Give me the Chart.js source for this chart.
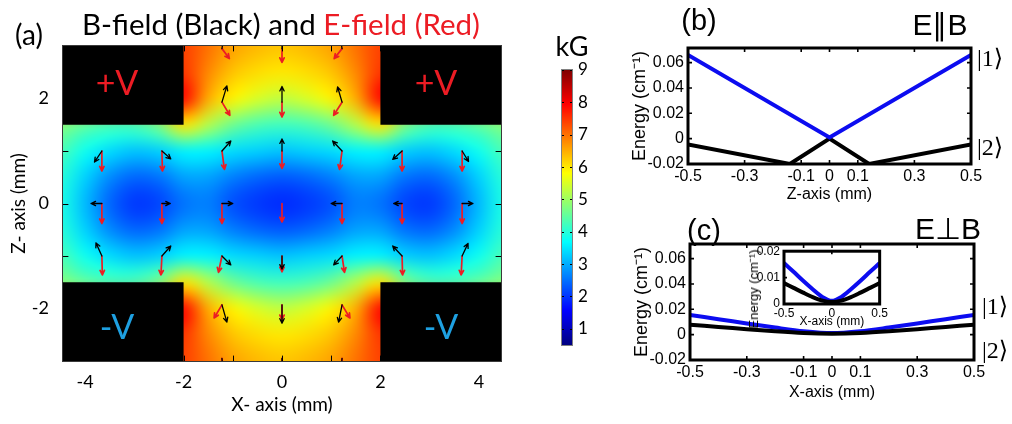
<!DOCTYPE html>
<html lang="en">
<head>
<meta charset="utf-8">
<title>Magnetic and electric field map with level shifts</title>
<script src="https://cdn.jsdelivr.net/npm/chart.js@4.4.1/dist/chart.umd.min.js"></script>
<style>
  html, body { margin: 0; padding: 0; background: #fff; }
  #page { position: relative; width: 1012px; height: 424px; overflow: hidden; background: #fff; }
  #page canvas { position: absolute; }
  .lbl { position: absolute; white-space: nowrap; line-height: 1; transform: translate(-50%, -50%); }
</style>
</head>
<body>
<div id="page">
  <canvas id="fieldMap" width="545" height="424" style="left:0;top:0"></canvas>
  <canvas id="colorBar" width="80" height="330" style="left:540px;top:40px"></canvas>
  <canvas id="parallelChart" width="392" height="210" style="left:620px;top:0"></canvas>
  <canvas id="perpChart" width="392" height="214" style="left:620px;top:210px"></canvas>
  <canvas id="perpInset" width="160" height="100" style="left:730px;top:240px"></canvas>
</div>
<script>
// ---------------- panel (a): |B| map with field directions ----------------
// sample grid (mm); rows run from z = +3 down to z = -3
const fieldX = [-4.5, -4, -3.5, -3, -2.5, -2, -1.5, -1, -0.5, 0, 0.5, 1, 1.5, 2, 2.5, 3, 3.5, 4, 4.5];
const fieldZ = [3, 2.5, 2, 1.5, 1, 0.5, 0, -0.5, -1, -1.5, -2, -2.5, -3];
// field magnitude in kG at each grid node
const fieldB = [
  [7.4, 7.4, 7.4, 7.4, 7.4, 7.4, 7.0, 6.6, 6.4, 6.3, 6.4, 6.6, 7.0, 7.4, 7.4, 7.4, 7.4, 7.4, 7.4],
  [7.5, 7.5, 7.5, 7.5, 7.5, 7.5, 6.8, 6.3, 6.1, 6.0, 6.1, 6.3, 6.8, 7.5, 7.5, 7.5, 7.5, 7.5, 7.5],
  [7.9, 7.9, 7.9, 7.9, 7.9, 7.9, 6.5, 5.9, 5.5, 5.3, 5.5, 5.9, 6.5, 7.9, 7.9, 7.9, 7.9, 7.9, 7.9],
  [4.8, 4.5, 4.3, 4.3, 4.7, 6.0, 5.2, 4.6, 4.3, 4.2, 4.3, 4.6, 5.2, 6.0, 4.7, 4.3, 4.3, 4.5, 4.8],
  [4.3, 3.8, 3.4, 3.2, 3.3, 3.6, 3.6, 3.4, 3.3, 3.2, 3.3, 3.4, 3.6, 3.6, 3.3, 3.2, 3.4, 3.8, 4.3],
  [4.0, 3.3, 2.7, 2.4, 2.5, 2.9, 2.9, 2.6, 2.4, 2.3, 2.4, 2.6, 2.9, 2.9, 2.5, 2.4, 2.7, 3.3, 4.0],
  [3.9, 3.1, 2.4, 2.0, 2.1, 2.5, 2.6, 2.2, 2.0, 1.9, 2.0, 2.2, 2.6, 2.5, 2.1, 2.0, 2.4, 3.1, 3.9],
  [4.0, 3.3, 2.7, 2.4, 2.5, 2.9, 2.9, 2.6, 2.4, 2.3, 2.4, 2.6, 2.9, 2.9, 2.5, 2.4, 2.7, 3.3, 4.0],
  [4.3, 3.8, 3.4, 3.2, 3.3, 3.6, 3.6, 3.4, 3.3, 3.2, 3.3, 3.4, 3.6, 3.6, 3.3, 3.2, 3.4, 3.8, 4.3],
  [4.8, 4.5, 4.3, 4.3, 4.7, 6.0, 5.2, 4.6, 4.3, 4.2, 4.3, 4.6, 5.2, 6.0, 4.7, 4.3, 4.3, 4.5, 4.8],
  [7.9, 7.9, 7.9, 7.9, 7.9, 7.9, 6.5, 5.9, 5.5, 5.3, 5.5, 5.9, 6.5, 7.9, 7.9, 7.9, 7.9, 7.9, 7.9],
  [7.5, 7.5, 7.5, 7.5, 7.5, 7.5, 6.8, 6.3, 6.1, 6.0, 6.1, 6.3, 6.8, 7.5, 7.5, 7.5, 7.5, 7.5, 7.5],
  [7.4, 7.4, 7.4, 7.4, 7.4, 7.4, 7.0, 6.6, 6.4, 6.3, 6.4, 6.6, 7.0, 7.4, 7.4, 7.4, 7.4, 7.4, 7.4]
];
// electrode blocks [x0, x1, z0, z1] in mm
const electrodes = [[-5, -2, 1.5, 3.5], [2, 5, 1.5, 3.5], [-5, -2, -3.5, -1.5], [2, 5, -3.5, -1.5]];
// arrow anchor points [x, z] in mm
const arrowSites = [
  [-1.22, 2.95], [0, 2.95], [1.22, 2.95],
  [-1.22, 1.93], [0, 1.93], [1.22, 1.93],
  [-3.66, 1], [-2.44, 1], [-1.22, 1], [0, 1], [1.22, 1], [2.44, 1], [3.66, 1],
  [-3.66, 0], [-2.44, 0], [-1.22, 0], [0, 0], [1.22, 0], [2.44, 0], [3.66, 0],
  [-3.66, -1], [-2.44, -1], [-1.22, -1], [0, -1], [1.22, -1], [2.44, -1], [3.66, -1],
  [-1.22, -1.93], [0, -1.93], [1.22, -1.93],
  [-1.22, -2.95], [0, -2.95], [1.22, -2.95]
];
// B-field direction arrows [dx, dz] in mm
const bArrows = [
  [0.04, 0.25], [0, 0.25], [-0.04, 0.25],
  [0.10, 0.31], [0, 0.30], [-0.09, 0.29],
  [-0.15, -0.21], [0.18, -0.15], [0.18, 0.19], [0, 0.23], [-0.19, 0.19], [-0.19, -0.16], [0.13, -0.20],
  [-0.22, 0], [0.17, 0], [0.22, 0], [0, 0], [-0.22, 0], [-0.17, 0], [0.22, 0],
  [-0.12, 0.25], [0.18, 0.19], [0.18, -0.17], [0, -0.25], [-0.17, -0.17], [-0.19, 0.19], [0.12, 0.24],
  [0.10, -0.33], [0, -0.35], [-0.07, -0.33],
  [0.03, -0.3], [0, -0.3], [-0.03, -0.3]
];
// E-field direction arrows [dx, dz] in mm
const eArrows = [
  [0.15, -0.19], [0, -0.26], [-0.16, -0.19],
  [0.16, -0.25], [0, -0.28], [-0.17, -0.25],
  [0, -0.38], [0.01, -0.38], [0.05, -0.35], [0, -0.33], [-0.05, -0.35], [0, -0.38], [0, -0.38],
  [0, -0.38], [0, -0.38], [0, -0.38], [0, -0.35], [0, -0.38], [0, -0.38], [0, -0.38],
  [0.01, -0.36], [-0.02, -0.36], [-0.07, -0.31], [0, -0.30], [0.05, -0.31], [0.01, -0.36], [-0.02, -0.36],
  [-0.16, -0.25], [0, -0.28], [0.16, -0.25],
  [0, -0.2], [0, -0.2], [0, -0.2]
];
const mapXRange = [-4.45, 4.45];
const mapZRange = [-3, 3];
const mapXTicks = [-4, -3, -2, -1, 0, 1, 2, 3, 4];
const mapXLabels = ['-4', '', '-2', '', '0', '', '2', '', '4'];
const mapZTicks = [-2, -1, 0, 1, 2];
const mapZLabels = ['-2', '', '0', '', '2'];
const colorRange = [0.5, 9];
const colorTicks = [1, 2, 3, 4, 5, 6, 7, 8, 9];

// ---------------- panel (b): E parallel to B ----------------
const parState1X = [-0.5, 0, 0.5];
const parState1 = [0.066, 0.001, 0.066];
const parState2X = [-0.5, -0.14, 0, 0.14, 0.5];
const parState2 = [-0.0045, -0.02, 0, -0.02, -0.0045];

// ---------------- panel (c): E perpendicular to B ----------------
const perpX = [-0.5, -0.4, -0.3, -0.2, -0.1, 0, 0.1, 0.2, 0.3, 0.4, 0.5];
const perpState1 = [0.0155, 0.0122, 0.0088, 0.0056, 0.0027, 0.0012, 0.0027, 0.0056, 0.0088, 0.0122, 0.0155];
const perpState2 = [0.0079, 0.0061, 0.0043, 0.0026, 0.0013, 0.0008, 0.0013, 0.0026, 0.0043, 0.0061, 0.0079];

const posTicks = [-0.5, -0.3, -0.1, 0, 0.1, 0.3, 0.5];
const posLabels = ['-0.5', '-0.3', '-0.1', '0', '0.1', '0.3', '0.5'];
const energyTicks = [-0.02, 0, 0.02, 0.04, 0.06];
const energyLabels = ['-0.02', '0', '0.02', '0.04', '0.06'];
const insetXTicks = [-0.5, 0, 0.5];
const insetXLabels = ['-0.5', '0', '0.5'];
const insetYTicks = [0, 0.01, 0.02];
const insetYLabels = ['0', '0.01', '0.02'];

// ---------------- helpers ----------------
const SANS = "Lato, 'Open Sans', sans-serif";
const ARIAL = "'Liberation Sans', Arial, sans-serif";
const BLUE = 'rgb(12, 12, 240)';
const ENERGY_TITLE = 'Energy (cm\u207B\u00B9)';

function jet(v) {
  const t = Math.min(1, Math.max(0, (v - colorRange[0]) / (colorRange[1] - colorRange[0])));
  const f = u => Math.round(255 * Math.min(1, Math.max(0, 1.5 - Math.abs(4 * t - u))));
  return [f(3), f(2), f(1)];
}

function drawArrow(ctx, bx, by, tx, ty, head) {
  const len = Math.hypot(tx - bx, ty - by);
  if (len < 1) return;
  const ang = Math.atan2(ty - by, tx - bx);
  ctx.beginPath();
  ctx.moveTo(bx, by); ctx.lineTo(tx, ty);
  ctx.moveTo(tx - head * Math.cos(ang - 0.45), ty - head * Math.sin(ang - 0.45));
  ctx.lineTo(tx, ty);
  ctx.lineTo(tx - head * Math.cos(ang + 0.45), ty - head * Math.sin(ang + 0.45));
  ctx.stroke();
}

const baseOptions = {
  responsive: false, animation: false, devicePixelRatio: 1,
  events: [],
};
const noGrid = { display: false, drawTicks: false };

// |B| image, electrodes, field arrows and inner tick marks
const fieldLayers = {
  id: 'fieldLayers',
  beforeDatasetsDraw(chart) {
    const { ctx, chartArea: a, scales: { x, y } } = chart;
    ctx.save();
    ctx.beginPath(); ctx.rect(a.left, a.top, a.right - a.left, a.bottom - a.top); ctx.clip();
    const tex = document.createElement('canvas');
    tex.width = fieldX.length; tex.height = fieldZ.length;
    const tctx = tex.getContext('2d');
    const img = tctx.createImageData(tex.width, tex.height);
    fieldB.forEach((row, r) => row.forEach((v, c) => {
      const [R, G, B] = jet(v);
      const k = 4 * (r * tex.width + c);
      img.data[k] = R; img.data[k + 1] = G; img.data[k + 2] = B; img.data[k + 3] = 255;
    }));
    tctx.putImageData(img, 0, 0);
    const hx = (fieldX[1] - fieldX[0]) / 2, hz = (fieldZ[0] - fieldZ[1]) / 2;
    const x0 = x.getPixelForValue(fieldX[0] - hx), x1 = x.getPixelForValue(fieldX[fieldX.length - 1] + hx);
    const y0 = y.getPixelForValue(fieldZ[0] + hz), y1 = y.getPixelForValue(fieldZ[fieldZ.length - 1] - hz);
    ctx.imageSmoothingEnabled = true;
    ctx.imageSmoothingQuality = 'high';
    ctx.drawImage(tex, x0, y0, x1 - x0, y1 - y0);
    ctx.fillStyle = '#000';
    electrodes.forEach(([ex0, ex1, ez0, ez1]) => {
      const px0 = x.getPixelForValue(ex0), px1 = x.getPixelForValue(ex1);
      const py0 = y.getPixelForValue(ez1), py1 = y.getPixelForValue(ez0);
      ctx.fillRect(px0, py0, px1 - px0, py1 - py0);
    });
    ctx.restore();
  },
  afterDatasetsDraw(chart) {
    const { ctx, chartArea: a, scales: { x, y } } = chart;
    ctx.save();
    ctx.beginPath(); ctx.rect(a.left, a.top, a.right - a.left, a.bottom - a.top); ctx.clip();
    ctx.lineCap = 'round'; ctx.lineJoin = 'round';
    chart.data.datasets.forEach(ds => {
      ctx.strokeStyle = ds.arrowColor;
      ctx.lineWidth = ds.arrowWidth;
      ds.data.forEach(d => {
        drawArrow(ctx, x.getPixelForValue(d.x), y.getPixelForValue(d.y),
          x.getPixelForValue(d.x + d.u), y.getPixelForValue(d.y + d.w), 5);
      });
    });
    ctx.strokeStyle = '#000'; ctx.lineWidth = 1;
    ctx.beginPath();
    x.ticks.forEach(t => {
      const px = Math.round(x.getPixelForValue(t.value)) + 0.5;
      ctx.moveTo(px, a.bottom); ctx.lineTo(px, a.bottom - 5);
      ctx.moveTo(px, a.top); ctx.lineTo(px, a.top + 5);
    });
    y.ticks.forEach(t => {
      const py = Math.round(y.getPixelForValue(t.value)) + 0.5;
      ctx.moveTo(a.left, py); ctx.lineTo(a.left + 5, py);
      ctx.moveTo(a.right, py); ctx.lineTo(a.right - 5, py);
    });
    ctx.stroke();
    ctx.restore();
    ctx.save();
    ctx.strokeStyle = '#3a3a3a'; ctx.lineWidth = 1;
    ctx.strokeRect(a.left - 0.5, a.top - 0.5, a.right - a.left + 1, a.bottom - a.top + 1);
    ctx.restore();
  }
};

new Chart(document.getElementById('fieldMap'), {
  type: 'scatter',
  data: {
    datasets: [
      { label: 'E-field', arrowColor: 'rgb(236, 28, 36)', arrowWidth: 1.7, pointRadius: 0,
        data: arrowSites.map(([px, pz], i) => ({ x: px, y: pz, u: eArrows[i][0], w: eArrows[i][1] })) },
      { label: 'B-field', arrowColor: '#000', arrowWidth: 1.3, pointRadius: 0,
        data: arrowSites.map(([px, pz], i) => ({ x: px, y: pz, u: bArrows[i][0], w: bArrows[i][1] })) }
    ]
  },
  options: {
    ...baseOptions,
    layout: { padding: { left: 0, top: 46, right: 44, bottom: 0 } },
    plugins: { legend: { display: false }, tooltip: { enabled: false } },
    scales: {
      x: {
        type: 'linear', min: mapXRange[0], max: mapXRange[1],
        grid: noGrid, border: { display: false },
        afterBuildTicks: s => { s.ticks = mapXTicks.map(v => ({ value: v })); },
        ticks: { autoSkip: false, maxRotation: 0, padding: 10, color: '#000',
          font: { family: SANS, size: 18 }, callback: (v, i) => mapXLabels[i] },
        title: { display: true, text: 'X- axis (mm)', color: '#000',
          font: { family: SANS, size: 19 }, padding: { top: 0, bottom: 8 } },
        afterFit: s => { s.height = 63; }
      },
      y: {
        type: 'linear', min: mapZRange[0], max: mapZRange[1],
        grid: noGrid, border: { display: false },
        afterBuildTicks: s => { s.ticks = mapZTicks.map(v => ({ value: v })); },
        ticks: { autoSkip: false, padding: 14, color: '#000',
          font: { family: SANS, size: 18 }, callback: (v, i) => mapZLabels[i] },
        title: { display: true, text: 'Z- axis (mm)', color: '#000',
          font: { family: SANS, size: 19 }, padding: { top: 7, bottom: 0 } },
        afterFit: s => { s.width = 63; }
      }
    }
  },
  plugins: [fieldLayers]
});

// colour scale for |B|
const colorStrip = {
  id: 'colorStrip',
  beforeDatasetsDraw(chart) {
    const { ctx, chartArea: a, scales: { y } } = chart;
    ctx.save();
    for (let py = Math.floor(a.top); py < Math.ceil(a.bottom); py++) {
      const [R, G, B] = jet(y.getValueForPixel(py + 0.5));
      ctx.fillStyle = `rgb(${R},${G},${B})`;
      ctx.fillRect(a.left, py, a.right - a.left, 1);
    }
    ctx.strokeStyle = '#000'; ctx.lineWidth = 1;
    ctx.beginPath();
    y.ticks.forEach(t => {
      const py = Math.round(y.getPixelForValue(t.value)) + 0.5;
      ctx.moveTo(a.left, py); ctx.lineTo(a.left + 2, py);
      ctx.moveTo(a.right, py); ctx.lineTo(a.right - 2, py);
    });
    ctx.stroke();
    ctx.strokeStyle = '#808080';
    ctx.strokeRect(a.left - 0.5, a.top - 0.5, a.right - a.left + 1, a.bottom - a.top + 1);
    ctx.restore();
  }
};

new Chart(document.getElementById('colorBar'), {
  type: 'scatter',
  data: { datasets: [{ data: [] }] },
  options: {
    ...baseOptions,
    layout: { padding: { left: 22, top: 30, right: 0, bottom: 25 } },
    plugins: { legend: { display: false }, tooltip: { enabled: false } },
    scales: {
      x: { type: 'linear', min: 0, max: 1, display: false },
      y: {
        type: 'linear', position: 'right', min: colorRange[0], max: colorRange[1],
        grid: noGrid, border: { display: false },
        afterBuildTicks: s => { s.ticks = colorTicks.map(v => ({ value: v })); },
        ticks: { autoSkip: false, padding: 6, color: '#000', font: { family: SANS, size: 17 },
          callback: v => String(v) },
        afterFit: s => { s.width = 48; }
      }
    }
  },
  plugins: [colorStrip]
});

// ---------------- level-shift panels ----------------
const plotBackground = {
  id: 'plotBackground',
  beforeDraw(chart, args, opts) {
    if (!opts.color) return;
    const { ctx, chartArea: a } = chart;
    ctx.save(); ctx.fillStyle = opts.color;
    ctx.fillRect(a.left, a.top, a.right - a.left, a.bottom - a.top);
    ctx.restore();
  }
};

const boxFrame = {
  id: 'boxFrame',
  afterDatasetsDraw(chart, args, opts) {
    const { ctx, chartArea: a, scales: { x, y } } = chart;
    ctx.save();
    ctx.strokeStyle = '#000';
    ctx.lineWidth = 1.6;
    ctx.beginPath();
    x.ticks.forEach(t => {
      const px = x.getPixelForValue(t.value);
      ctx.moveTo(px, a.bottom); ctx.lineTo(px, a.bottom - opts.tickLen);
      ctx.moveTo(px, a.top); ctx.lineTo(px, a.top + opts.tickLen);
    });
    y.ticks.forEach(t => {
      const py = y.getPixelForValue(t.value);
      ctx.moveTo(a.left, py); ctx.lineTo(a.left + opts.tickLen, py);
      ctx.moveTo(a.right, py); ctx.lineTo(a.right - opts.tickLen, py);
    });
    ctx.stroke();
    ctx.lineWidth = opts.lineWidth;
    ctx.strokeRect(a.left, a.top, a.right - a.left, a.bottom - a.top);
    ctx.restore();
  }
};

function series(xs, ys, color, width, order, tension) {
  return {
    data: xs.map((v, i) => ({ x: v, y: ys[i] })),
    borderColor: color, backgroundColor: color, borderWidth: width,
    pointRadius: 0, tension: tension, order: order, fill: false
  };
}

function levelChart(id, c) {
  return new Chart(document.getElementById(id), {
    type: 'line',
    data: { datasets: c.datasets },
    options: {
      ...baseOptions,
      layout: { padding: c.padding },
      plugins: {
        legend: { display: false }, tooltip: { enabled: false },
        boxFrame: { lineWidth: c.frame, tickLen: c.tickLen },
        plotBackground: { color: c.background }
      },
      scales: {
        x: {
          type: 'linear', min: c.xTicks[0], max: c.xTicks[c.xTicks.length - 1],
          grid: noGrid, border: { display: false },
          afterBuildTicks: s => { s.ticks = c.xTicks.map(v => ({ value: v })); },
          ticks: { autoSkip: false, maxRotation: 0, padding: c.xTickPad, color: '#000',
            font: { family: ARIAL, size: c.tickSize }, callback: (v, i) => c.xLabels[i] },
          title: { display: true, text: c.xTitle, color: '#000',
            font: { family: ARIAL, size: c.titleSize }, padding: { top: 0, bottom: c.xTitlePad } },
          afterFit: s => { s.height = c.xHeight; }
        },
        y: {
          type: 'linear', min: c.yMin, max: c.yMax,
          grid: noGrid, border: { display: false },
          afterBuildTicks: s => { s.ticks = c.yTicks.map(v => ({ value: v })); },
          ticks: { autoSkip: false, padding: c.yTickPad, color: '#000',
            font: { family: ARIAL, size: c.tickSize }, callback: (v, i) => c.yLabels[i] },
          title: { display: c.yTitleSize > 0, text: ENERGY_TITLE, color: '#000',
            font: { family: ARIAL, size: c.yTitleSize || 12 }, padding: { top: c.yTitlePad, bottom: 0 } },
          afterFit: s => { s.width = c.yWidth; }
        }
      }
    },
    plugins: [plotBackground, boxFrame]
  });
}

levelChart('parallelChart', {
  datasets: [
    series(parState1X, parState1, BLUE, 4, 0, 0),
    series(parState2X, parState2, '#000', 4, 1, 0)
  ],
  padding: { left: 0, top: 48, right: 41, bottom: 0 },
  xTicks: posTicks, xLabels: posLabels, yTicks: energyTicks, yLabels: energyLabels,
  yMin: -0.02, yMax: 0.0715,
  xTitle: 'Z-axis (mm)', tickSize: 16, titleSize: 16, yTitleSize: 18,
  xTickPad: 3, xTitlePad: 6, xHeight: 46, yTickPad: 4, yTitlePad: 9, yWidth: 68,
  frame: 3, tickLen: 4
});

levelChart('perpChart', {
  datasets: [
    series(perpX, perpState1, BLUE, 4, 1, 0.3),
    series(perpX, perpState2, '#000', 4, 0, 0.3)
  ],
  padding: { left: 0, top: 34, right: 38, bottom: 0 },
  xTicks: posTicks, xLabels: posLabels, yTicks: energyTicks, yLabels: energyLabels,
  yMin: -0.02, yMax: 0.0715,
  xTitle: 'X-axis (mm)', tickSize: 16, titleSize: 16, yTitleSize: 18,
  xTickPad: 3, xTitlePad: 22, xHeight: 64, yTickPad: 4, yTitlePad: 11, yWidth: 70,
  frame: 3, tickLen: 4
});

// inset: its energy label is longer than the inset itself, so it is placed as a page label below
levelChart('perpInset', {
  datasets: [
    series(perpX, perpState1, BLUE, 4, 1, 0.3),
    series(perpX, perpState2, '#000', 4, 0, 0.3)
  ],
  padding: { left: 0, top: 11, right: 10, bottom: 0 },
  xTicks: insetXTicks, xLabels: insetXLabels, yTicks: insetYTicks, yLabels: insetYLabels,
  yMin: 0, yMax: 0.02,
  xTitle: 'X-axis (mm)', tickSize: 12, titleSize: 12, yTitleSize: 0,
  xTickPad: 2, xTitlePad: 11, xHeight: 36, yTickPad: 4, yTitlePad: 14, yWidth: 54,
  frame: 3, tickLen: 3, background: '#fff'
});

// ---------------- annotations ----------------
const page = document.getElementById('page');
function addLabel(html, cx, cy, css) {
  const d = document.createElement('div');
  d.className = 'lbl';
  d.innerHTML = html;
  d.style.left = cx + 'px';
  d.style.top = cy + 'px';
  Object.assign(d.style, css);
  page.appendChild(d);
  return d;
}
const red = 'rgb(236, 28, 36)';
const cyanText = 'rgb(30, 160, 225)';
addLabel('(a)', 29, 34, { font: `28px ${SANS}`, color: '#000' });
const title = addLabel('B-field (Black) and <span style="color:' + red + '">E-field (Red)</span>',
  281, 23, { font: `27px ${SANS}`, color: '#000' });
// size the heading so it spans the plot width above the map
const measure = document.createElement('canvas').getContext('2d');
measure.font = `100px ${SANS}`;
const headingWidth = measure.measureText('B-field (Black) and E-field (Red)').width;
title.style.fontSize = (100 * 398 / headingWidth).toFixed(2) + 'px';
addLabel('+V', 117, 81, { font: `34px ${SANS}`, color: red });
addLabel('+V', 436, 81, { font: `34px ${SANS}`, color: red });
addLabel('-V', 117, 325, { font: `34px ${SANS}`, color: cyanText });
addLabel('-V', 441, 325, { font: `34px ${SANS}`, color: cyanText });
addLabel('kG', 572, 45, { font: `27px ${SANS}`, color: '#000' });

addLabel('(b)', 699, 20, { font: `29px ${ARIAL}`, color: '#000' });
addLabel('E\u2225B', 940, 24, { font: `30px ${ARIAL}`, color: '#000' });
addLabel('|1\u27E9', 990, 58, { font: `24px 'Liberation Serif', 'DejaVu Serif', serif`, color: '#000' });
addLabel('|2\u27E9', 990, 147, { font: `24px 'Liberation Serif', 'DejaVu Serif', serif`, color: '#000' });
addLabel('(c)', 704, 230, { font: `29px ${ARIAL}`, color: '#000' });
addLabel('E\u22A5B', 948, 228, { font: `30px ${ARIAL}`, color: '#000' });
addLabel('|1\u27E9', 995, 306, { font: `24px 'Liberation Serif', 'DejaVu Serif', serif`, color: '#000' });
addLabel('|2\u27E9', 995, 350, { font: `24px 'Liberation Serif', 'DejaVu Serif', serif`, color: '#000' });
addLabel(ENERGY_TITLE, 753, 289, { font: `13px ${ARIAL}`, color: '#000',
  transform: 'translate(-50%, -50%) rotate(-90deg)' });
</script>
</body>
</html>
